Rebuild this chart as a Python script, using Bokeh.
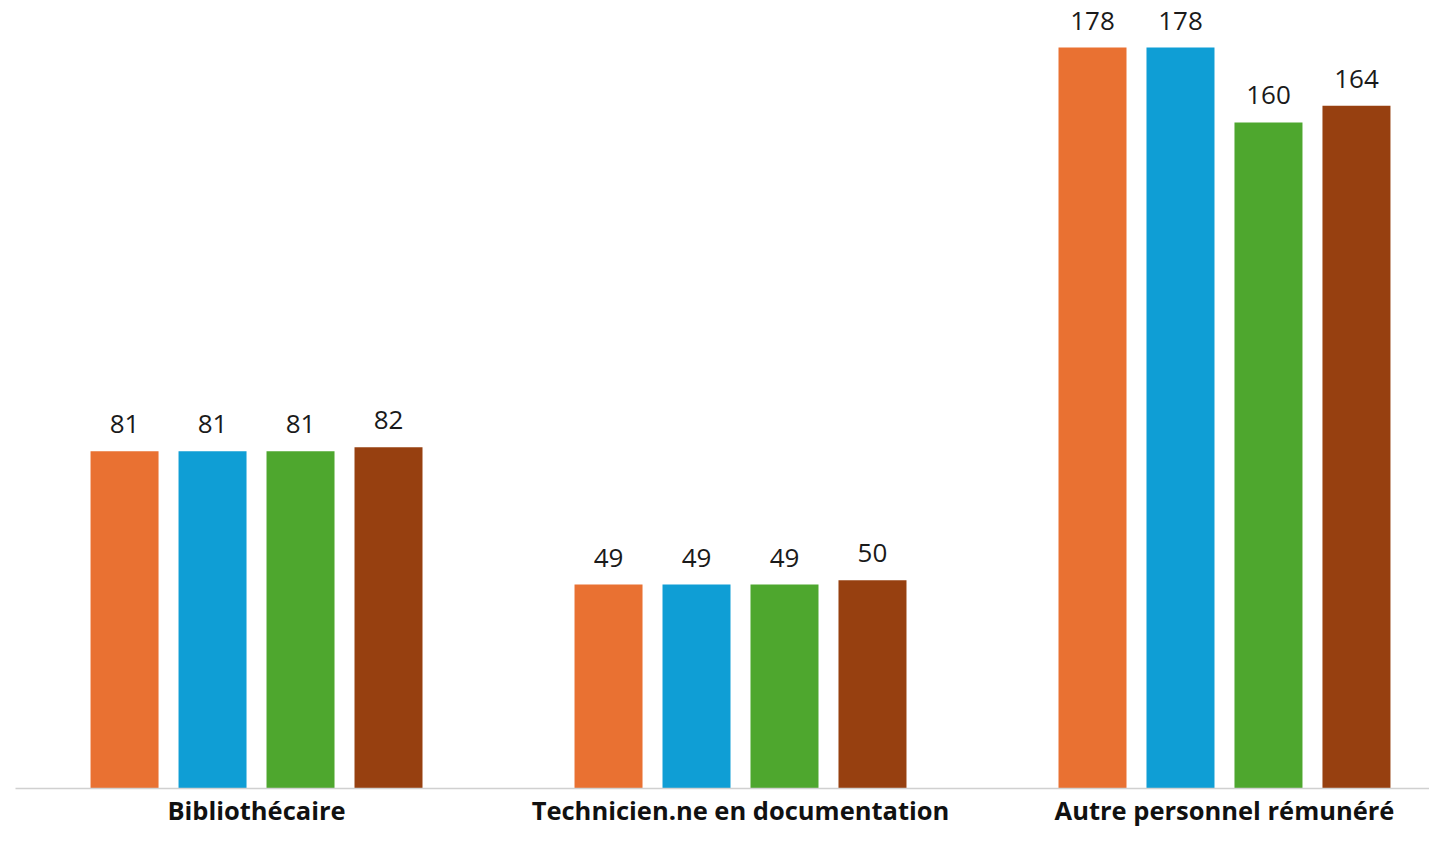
from bokeh.plotting import figure
from bokeh.models import ColumnDataSource, Range1d, FixedTicker
from bokeh.embed import file_html
from bokeh.resources import INLINE
from bokeh.core.properties import value

categories = ["Bibliothécaire", "Technicien.ne en documentation", "Autre personnel rémunéré"]
series_names = ["S1", "S2", "S3", "S4"]
series_values = [
    [81, 49, 178],
    [81, 49, 178],
    [81, 49, 160],
    [82, 50, 164],
]
colors = ["#E97132", "#0F9ED5", "#4EA72E", "#974010"]

step = 0.1818
bar_w = 0.1405

p = figure(width=1429, height=829, output_backend="svg", toolbar_location=None,
           x_range=Range1d(-0.498, 2.4236), y_range=Range1d(0, 189.3),
           min_border_left=15, min_border_right=0, min_border_top=0, min_border_bottom=30)
p.outline_line_color = None
p.grid.visible = False
p.yaxis.visible = False

n = len(series_names)
for i, (name, vals) in enumerate(zip(series_names, series_values)):
    off = (i - (n - 1) / 2) * step
    xs = [k + off for k in range(len(categories))]
    src = ColumnDataSource(dict(x=xs, top=vals, label=[str(v) for v in vals]))
    p.vbar(x="x", top="top", width=bar_w, bottom=0, source=src,
           fill_color=colors[i], line_color=None)
    p.text(x="x", y="top", text="label", source=src, text_align="center",
           text_baseline="alphabetic", y_offset=-27, text_font=value("Open Sans"),
           text_font_size="26px", text_color="#1a1a1a")

xa = p.xaxis[0]
xa.ticker = FixedTicker(ticks=list(range(len(categories))))
xa.major_label_overrides = {i: c for i, c in enumerate(categories)}
xa.major_tick_line_color = None
xa.major_tick_out = 0
xa.major_tick_in = 0
xa.minor_tick_line_color = None
xa.minor_tick_out = 0
xa.axis_line_color = "#d0d0d0"
xa.axis_line_width = 1.5
xa.major_label_text_font = "Open Sans"
xa.major_label_text_font_style = "bold"
xa.major_label_text_font_size = "25.5px"
xa.major_label_text_color = "#111111"
xa.major_label_standoff = 4

open("out.html", "w").write(file_html(p, INLINE))
